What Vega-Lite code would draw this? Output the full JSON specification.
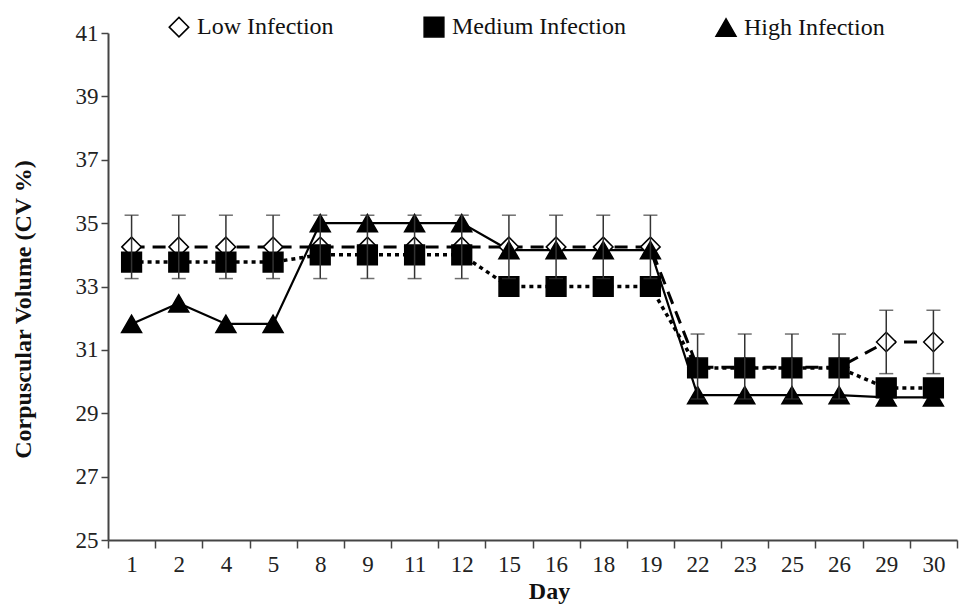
{
  "$schema": "https://vega.github.io/schema/vega-lite/v6.json",
  "width": 849,
  "height": 507,
  "autosize": "none",
  "padding": {"left": 108, "top": 33, "right": 8, "bottom": 69},
  "background": "white",
  "config": {
    "view": {"stroke": null},
    "font": "Liberation Serif",
    "axis": {"labelFont": "Liberation Serif", "titleFont": "Liberation Serif", "labelColor": "#222", "titleColor": "#111", "domainColor": "#444", "tickColor": "#444", "grid": false},
    "legend": {"orient": "none", "legendX": 59, "legendY": -18, "direction": "horizontal", "labelFontSize": 24, "labelFont": "Liberation Serif", "labelColor": "#111", "labelLimit": 400, "symbolStrokeColor": "black", "symbolStrokeWidth": 1.5, "columnPadding": 87, "labelOffset": 6}
  },
  "data": {
    "values": [
      {"day": 1, "series": "Low Infection", "value": 34.25, "lo": 33.25, "hi": 35.25},
      {"day": 2, "series": "Low Infection", "value": 34.25, "lo": 33.25, "hi": 35.25},
      {"day": 4, "series": "Low Infection", "value": 34.25, "lo": 33.25, "hi": 35.25},
      {"day": 5, "series": "Low Infection", "value": 34.25, "lo": 33.25, "hi": 35.25},
      {"day": 8, "series": "Low Infection", "value": 34.25, "lo": 33.25, "hi": 35.25},
      {"day": 9, "series": "Low Infection", "value": 34.25, "lo": 33.25, "hi": 35.25},
      {"day": 11, "series": "Low Infection", "value": 34.25, "lo": 33.25, "hi": 35.25},
      {"day": 12, "series": "Low Infection", "value": 34.25, "lo": 33.25, "hi": 35.25},
      {"day": 15, "series": "Low Infection", "value": 34.25, "lo": 33.25, "hi": 35.25},
      {"day": 16, "series": "Low Infection", "value": 34.25, "lo": 33.25, "hi": 35.25},
      {"day": 18, "series": "Low Infection", "value": 34.25, "lo": 33.25, "hi": 35.25},
      {"day": 19, "series": "Low Infection", "value": 34.25, "lo": 33.25, "hi": 35.25},
      {"day": 22, "series": "Low Infection", "value": 30.45, "lo": 29.45, "hi": 31.5},
      {"day": 23, "series": "Low Infection", "value": 30.45, "lo": 29.45, "hi": 31.5},
      {"day": 25, "series": "Low Infection", "value": 30.45, "lo": 29.45, "hi": 31.5},
      {"day": 26, "series": "Low Infection", "value": 30.45, "lo": 29.45, "hi": 31.5},
      {"day": 29, "series": "Low Infection", "value": 31.25, "lo": 30.25, "hi": 32.25},
      {"day": 30, "series": "Low Infection", "value": 31.25, "lo": 30.25, "hi": 32.25},
      {"day": 1, "series": "Medium Infection", "value": 33.77},
      {"day": 2, "series": "Medium Infection", "value": 33.77},
      {"day": 4, "series": "Medium Infection", "value": 33.77},
      {"day": 5, "series": "Medium Infection", "value": 33.77},
      {"day": 8, "series": "Medium Infection", "value": 34.0},
      {"day": 9, "series": "Medium Infection", "value": 34.0},
      {"day": 11, "series": "Medium Infection", "value": 34.0},
      {"day": 12, "series": "Medium Infection", "value": 34.0},
      {"day": 15, "series": "Medium Infection", "value": 33.0},
      {"day": 16, "series": "Medium Infection", "value": 33.0},
      {"day": 18, "series": "Medium Infection", "value": 33.0},
      {"day": 19, "series": "Medium Infection", "value": 33.0},
      {"day": 22, "series": "Medium Infection", "value": 30.43},
      {"day": 23, "series": "Medium Infection", "value": 30.43},
      {"day": 25, "series": "Medium Infection", "value": 30.43},
      {"day": 26, "series": "Medium Infection", "value": 30.43},
      {"day": 29, "series": "Medium Infection", "value": 29.8},
      {"day": 30, "series": "Medium Infection", "value": 29.8},
      {"day": 1, "series": "High Infection", "value": 31.82},
      {"day": 2, "series": "High Infection", "value": 32.47},
      {"day": 4, "series": "High Infection", "value": 31.82},
      {"day": 5, "series": "High Infection", "value": 31.82},
      {"day": 8, "series": "High Infection", "value": 35.0},
      {"day": 9, "series": "High Infection", "value": 35.0},
      {"day": 11, "series": "High Infection", "value": 35.0},
      {"day": 12, "series": "High Infection", "value": 35.0},
      {"day": 15, "series": "High Infection", "value": 34.15},
      {"day": 16, "series": "High Infection", "value": 34.15},
      {"day": 18, "series": "High Infection", "value": 34.15},
      {"day": 19, "series": "High Infection", "value": 34.15},
      {"day": 22, "series": "High Infection", "value": 29.57},
      {"day": 23, "series": "High Infection", "value": 29.57},
      {"day": 25, "series": "High Infection", "value": 29.57},
      {"day": 26, "series": "High Infection", "value": 29.57},
      {"day": 29, "series": "High Infection", "value": 29.5},
      {"day": 30, "series": "High Infection", "value": 29.5}
    ]
  },
  "encoding": {
    "x": {
      "field": "day", "type": "ordinal",
      "scale": {"paddingInner": 0, "paddingOuter": 0},
      "axis": {"title": "Day", "titleFontSize": 24, "titleFontWeight": "bold", "titlePadding": 3, "titleX": 441,
               "labelAngle": 0, "labelFontSize": 23, "labelPadding": 5, "tickBand": "extent", "tickSize": 8,
               "domainWidth": 2, "tickWidth": 1.5}
    },
    "y": {
      "field": "value", "type": "quantitative",
      "scale": {"domain": [25, 41], "nice": false, "zero": false},
      "axis": {"title": "Corpuscular Volume (CV %)", "titleFontSize": 24, "titleFontWeight": "bold", "titlePadding": 40, "titleY": 276,
               "values": [25, 27, 29, 31, 33, 35, 37, 39, 41], "labelFontSize": 23, "labelPadding": 3, "tickSize": 7,
               "domainWidth": 2, "tickWidth": 1.5}
    }
  },
  "layer": [
    {
      "transform": [{"filter": "datum.series === 'Low Infection'"}],
      "mark": {"type": "line", "stroke": "black", "strokeWidth": 3, "strokeDash": [13, 8]}
    },
    {
      "transform": [{"filter": "datum.series === 'Medium Infection'"}],
      "mark": {"type": "line", "stroke": "black", "strokeWidth": 3.5, "strokeDash": [4, 4]}
    },
    {
      "transform": [{"filter": "datum.series === 'High Infection'"}],
      "mark": {"type": "line", "stroke": "black", "strokeWidth": 2.2}
    },
    {
      "mark": {"type": "point", "strokeWidth": 1.5, "opacity": 1, "filled": false},
      "encoding": {
        "shape": {"field": "series", "type": "nominal", "title": null,
                  "scale": {"domain": ["Low Infection", "Medium Infection", "High Infection"], "range": ["diamond", "square", "triangle-up"]}},
        "fill": {"field": "series", "type": "nominal", "title": null,
                 "scale": {"domain": ["Low Infection", "Medium Infection", "High Infection"], "range": ["white", "black", "black"]}},
        "stroke": {"field": "series", "type": "nominal", "title": null,
                   "scale": {"domain": ["Low Infection", "Medium Infection", "High Infection"], "range": ["black", "black", "black"]}},
        "size": {"field": "series", "type": "nominal", "title": null,
                 "scale": {"domain": ["Low Infection", "Medium Infection", "High Infection"], "range": [380, 400, 484]}}
      }
    },
    {
      "transform": [{"filter": "datum.series === 'Low Infection'"}],
      "mark": {"type": "rule", "stroke": "#333", "strokeWidth": 1.5},
      "encoding": {"y": {"field": "lo", "type": "quantitative"}, "y2": {"field": "hi"}}
    },
    {
      "transform": [{"filter": "datum.series === 'Low Infection'"}],
      "mark": {"type": "tick", "color": "#333", "size": 14, "thickness": 1.5},
      "encoding": {"y": {"field": "lo", "type": "quantitative"}}
    },
    {
      "transform": [{"filter": "datum.series === 'Low Infection'"}],
      "mark": {"type": "tick", "color": "#333", "size": 14, "thickness": 1.5},
      "encoding": {"y": {"field": "hi", "type": "quantitative"}}
    }
  ]
}
